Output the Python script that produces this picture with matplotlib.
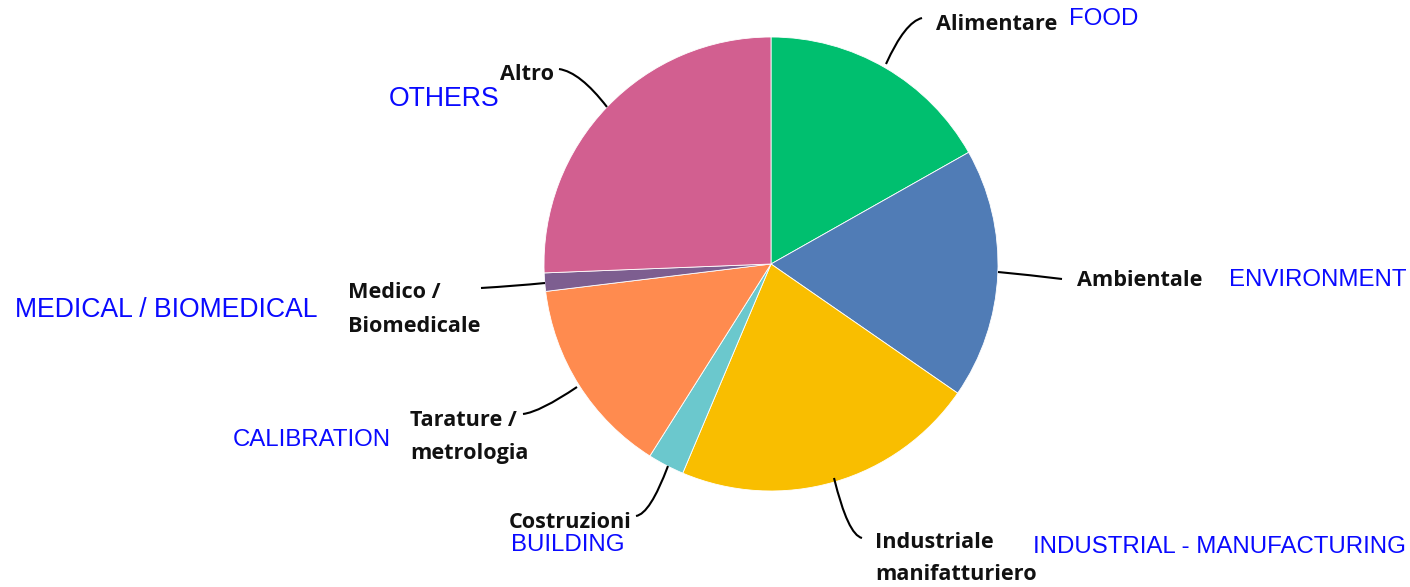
import matplotlib
matplotlib.use("Agg")
import matplotlib.pyplot as plt
from matplotlib.path import Path
from matplotlib.patches import PathPatch

labels = ["Alimentare", "Ambientale", "Industriale\nmanifatturiero", "Costruzioni",
          "Tarature /\nmetrologia", "Medico /\nBiomedicale", "Altro"]
english = ["FOOD", "ENVIRONMENT", "INDUSTRIAL - MANUFACTURING", "BUILDING",
           "CALIBRATION", "MEDICAL / BIOMEDICAL", "OTHERS"]
values = [16.8, 17.8, 21.7, 2.6, 14.1, 1.3, 25.6]
colors = ["#00BF6F", "#507CB6", "#F9BE00", "#6BC8CD", "#FF8B4F", "#7D5E90", "#D25F90"]

W, H = 1410, 587
fig = plt.figure(figsize=(W / 100, H / 100), dpi=100)
ax = fig.add_axes([0, 0, 1, 1])

def Y(y):
    return H - y

cx, cy, r = 771, 264, 227
ax.pie(values, colors=colors, startangle=90, counterclock=False,
       center=(cx, Y(cy)), radius=r, frame=True,
       wedgeprops=dict(edgecolor="white", linewidth=0.6))
ax.set_xlim(0, W)
ax.set_ylim(0, H)
ax.set_aspect("equal")
ax.axis("off")

def leader(p0, p1, p2):
    verts = [(p0[0], Y(p0[1])), (p1[0], Y(p1[1])), (p2[0], Y(p2[1]))]
    path = Path(verts, [Path.MOVETO, Path.CURVE3, Path.CURVE3])
    ax.add_patch(PathPatch(path, facecolor="none", edgecolor="black", lw=1.5))

bfont = dict(family="Open Sans", weight="bold", fontsize=15.6, color="#111111")
efont = dict(family="Liberation Sans", fontsize=17.3, color="#0a0aff")
efont_big = dict(family="Liberation Sans", fontsize=19.2, color="#0a0aff")

# leader lines
leader((886, 64), (905, 22), (922, 18))
leader((998, 272), (1030, 275), (1062, 279))
leader((834, 478), (848, 535), (862, 538))
leader((668, 466), (650, 514), (636, 516))
leader((577, 387), (540, 412), (523, 414))
leader((545, 283), (515, 286), (481, 288))
leader((607, 107), (580, 72), (559, 69))

# black labels
d = 2
ax.text(936, Y(22 + d), "Alimentare", ha="left", va="center", **bfont)
ax.text(1077, Y(279 + d), "Ambientale", ha="left", va="center", **bfont)
ax.text(875, Y(540 + d), "Industriale", ha="left", va="center", **bfont)
ax.text(875, Y(573 + d), "manifatturiero", ha="left", va="center", **bfont)
ax.text(631, Y(520 + d), "Costruzioni", ha="right", va="center", **bfont)
ax.text(410, Y(419 + d), "Tarature /", ha="left", va="center", **bfont)
ax.text(410, Y(452 + d), "metrologia", ha="left", va="center", **bfont)
ax.text(348, Y(290 + d), "Medico /", ha="left", va="center", **bfont)
ax.text(348, Y(324 + d), "Biomedicale", ha="left", va="center", **bfont)
ax.text(554, Y(73 + d), "Altro", ha="right", va="center", **bfont)

# english labels
ax.text(1069, Y(19), english[0], ha="left", va="center", **efont)
ax.text(1229, Y(280), english[1], ha="left", va="center", **efont)
ax.text(1033, Y(547), english[2], ha="left", va="center", **efont)
ax.text(511, Y(545), english[3], ha="left", va="center", **efont)
ax.text(233, Y(440), english[4], ha="left", va="center", **efont)
ax.text(15, Y(310), english[5], ha="left", va="center", **efont_big)
ax.text(389, Y(99), english[6], ha="left", va="center", **efont_big)

fig.savefig("out.png", dpi=100, facecolor="white")
